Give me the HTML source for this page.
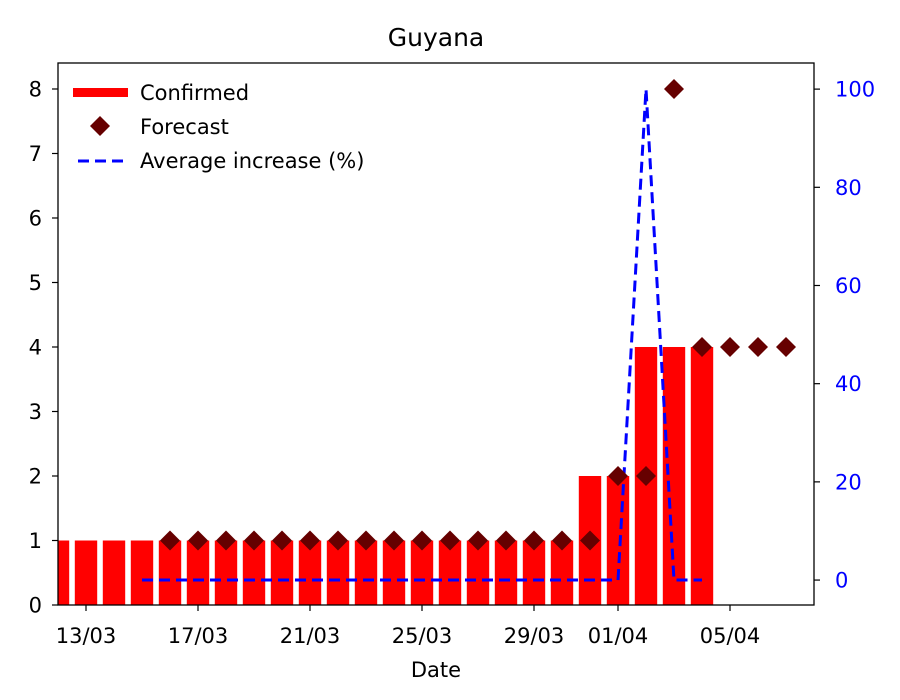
<!DOCTYPE html>
<html><head><meta charset="utf-8"><style>
html,body{margin:0;padding:0;background:#fff;}
svg{display:block;font-family:"DejaVu Sans","Liberation Sans",sans-serif;}
</style></head><body>
<svg id="chart" width="900" height="700" viewBox="0 0 900 700">
<text x="436" y="46" font-size="25" text-anchor="middle">Guyana</text>
<g id="bars"></g>
<g id="line"></g>
<g id="pts"></g>
<rect x="58" y="63" width="756" height="542" fill="none" stroke="#000" stroke-width="1.3"/>
<g id="xt"></g>
<g id="yl"></g>
<g id="yr"></g>
<text x="436" y="677" font-size="21" text-anchor="middle">Date</text>
<g>
<rect x="73" y="88" width="55" height="9" fill="#ff0000"/>
<text x="140" y="100" font-size="21">Confirmed</text>
<path d="M100,116 L110,126 L100,136 L90,126 Z" fill="#660000"/>
<text x="140" y="134" font-size="21">Forecast</text>
<line x1="78" y1="161" x2="123" y2="161" stroke="#0000ff" stroke-width="3" stroke-dasharray="11,6"/>
<text x="140" y="168" font-size="21">Average increase (%)</text>
</g>
</svg>
<script>
// day index from 12/03
const barDays = [0,1,2,3,4,5,6,7,8,9,10,11,12,13,14,15,16,17,18,19,20,21,22,23];
const barValues = [1,1,1,1,1,1,1,1,1,1,1,1,1,1,1,1,1,1,1,2,2,4,4,4];
const fcDays = [4,5,6,7,8,9,10,11,12,13,14,15,16,17,18,19,20,21,22,23,24,25,26];
const fcValues = [1,1,1,1,1,1,1,1,1,1,1,1,1,1,1,1,2,2,8,4,4,4,4];
const avgDays = [3,4,5,6,7,8,9,10,11,12,13,14,15,16,17,18,19,20,21,22,23];
const avgValues = [0,0,0,0,0,0,0,0,0,0,0,0,0,0,0,0,0,0,100,0,0];
const xTickDays = [1,5,9,13,17,20,24];
const xTickLabels = ["13/03","17/03","21/03","25/03","29/03","01/04","05/04"];
const yLeftTicks = [0,1,2,3,4,5,6,7,8];
const yRightTicks = [0,20,40,60,80,100];

const NS="http://www.w3.org/2000/svg";
const X0=58,X1=814,Y0=605,Y1=63;
const xs=d=>X0+(d-0)/(27-0)*(X1-X0);
const yl=v=>Y0-(v-0)/(8.403)*(Y0-Y1);
const yr=v=>Y0-(v+5.08)/(110.4)*(Y0-Y1);
function mk(t,a,p){const e=document.createElementNS(NS,t);for(const k in a)e.setAttribute(k,a[k]);p.appendChild(e);return e;}
const bw=(xs(1)-xs(0))*0.8;
const gb=document.getElementById('bars');
barDays.forEach((d,i)=>{
  const x=Math.max(X0,xs(d)-bw/2), x2=xs(d)+bw/2;
  const r=mk('rect',{x:x,y:yl(barValues[i]),width:x2-x,height:Y0-yl(barValues[i]),fill:'#ff0000'},gb);
  
  
});
const gl=document.getElementById('line');
const pl=mk('polyline',{points:avgDays.map((d,i)=>xs(d)+','+yr(avgValues[i])).join(' '),fill:'none',stroke:'#0000ff','stroke-width':3,'stroke-dasharray':'11,6'},gl);


const gp=document.getElementById('pts');
fcDays.forEach((d,i)=>{
  const x=xs(d),y=yl(fcValues[i]);
  const p=mk('path',{d:`M${x},${y-10} L${x+10},${y} L${x},${y+10} L${x-10},${y} Z`,fill:'#660000'},gp);
  
  
});
const gx=document.getElementById('xt');
xTickDays.forEach((d,i)=>{
  mk('line',{x1:xs(d),x2:xs(d),y1:Y0,y2:Y0+6,stroke:'#000','stroke-width':1.2},gx);
  const t=mk('text',{x:xs(d),y:643,'font-size':21,'text-anchor':'middle'},gx);
  t.textContent=xTickLabels[i];
  
  
});
const gyl=document.getElementById('yl');
yLeftTicks.forEach(v=>{
  mk('line',{x1:X0-6,x2:X0,y1:yl(v),y2:yl(v),stroke:'#000','stroke-width':1.2},gyl);
  const t=mk('text',{x:X0-16,y:yl(v)+7.5,'font-size':21,'text-anchor':'end'},gyl);
  t.textContent=v;
  
  
});
const gyr=document.getElementById('yr');
yRightTicks.forEach(v=>{
  mk('line',{x1:X1,x2:X1+6,y1:yr(v),y2:yr(v),stroke:'#000','stroke-width':1.2},gyr);
  const t=mk('text',{x:X1+21,y:yr(v)+7.5,'font-size':21,'text-anchor':'start',fill:'#0000ff'},gyr);
  t.textContent=v;
  
  
});
</script>
</body></html>
